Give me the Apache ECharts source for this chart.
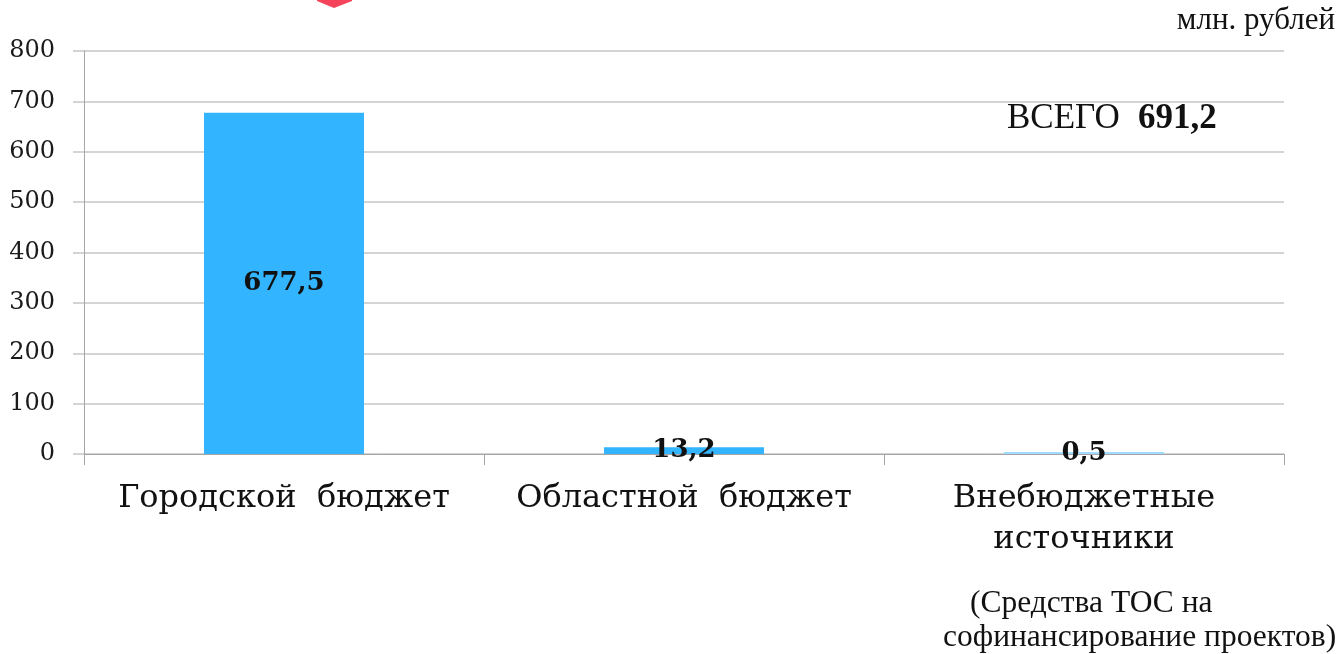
<!DOCTYPE html>
<html>
<head>
<meta charset="utf-8">
<script src="https://cdn.jsdelivr.net/npm/echarts@6/dist/echarts.min.js"></script>
<style>
  html, body { margin: 0; padding: 0; background: #fff; }
  #chart { width: 1337px; height: 654px; }
</style>
</head>
<body>
<div id="chart"></div>
<script>
const categories = ['Городской  бюджет', 'Областной  бюджет', 'Внебюджетные\nисточники']
const values = [677.5, 13.2, 0.5]
const valueLabels = ['677,5', '13,2', '0,5']
const yTicks = [0, 100, 200, 300, 400, 500, 600, 700, 800]
const totalLabel = 'ВСЕГО'
const totalValue = '691,2'
const unitLabel = 'млн. рублей'
const noteLines = ['(Средства ТОС на', 'софинансирование проектов)']

const chart = echarts.init(document.getElementById('chart'))

const gridColor = '#d4d4d4'
const axisColor = '#a6a6a6'
const barColor = '#33b4ff'
const serif = 'Liberation Serif'

chart.setOption({
  animation: false,
  grid: { left: 84, right: 53, top: 51, bottom: 200 },
  xAxis: {
    type: 'category',
    data: categories,
    axisLine: { lineStyle: { color: axisColor, width: 1 } },
    axisTick: { show: true, length: 11, lineStyle: { color: axisColor } },
    axisLabel: {
      interval: 0,
      hideOverlap: false,
      margin: 24,
      color: '#111',
      fontFamily: 'DejaVu Serif',
      fontSize: 32,
      lineHeight: 41,
    },
  },
  yAxis: {
    type: 'value',
    min: yTicks[0],
    max: yTicks[yTicks.length - 1],
    interval: 100,
    axisLine: { show: true, lineStyle: { color: axisColor, width: 1 } },
    axisTick: { show: true, length: 11, lineStyle: { color: gridColor, width: 2 } },
    splitLine: { lineStyle: { color: gridColor, width: 2 } },
    axisLabel: {
      margin: 29,
      color: '#1a1a1a',
      fontFamily: 'DejaVu Serif',
      fontSize: 24,
    },
  },
  series: [
    {
      type: 'bar',
      barWidth: 160,
      barMinHeight: 2,
      data: values.map((v, i) => ({
        value: v,
        itemStyle: { color: i === 2 ? '#9fdcff' : barColor },
      })),
      label: {
        show: true,
        position: 'inside',
        color: '#111',
        fontFamily: 'DejaVu Serif',
        fontWeight: 'bold',
        fontSize: 26,
        formatter: (p) => valueLabels[p.dataIndex],
      },
    },
  ],
  graphic: [
    {
      type: 'polygon',
      shape: { points: [[317, 0], [352, 0], [352, 1], [334, 8], [317, 1]] },
      style: { fill: '#f4435a' },
    },
    {
      type: 'text',
      right: 2,
      top: 5,
      style: {
        text: unitLabel,
        fontFamily: serif,
        fontSize: 31,
        fill: '#111',
      },
    },
    {
      type: 'text',
      left: 1007,
      top: 101,
      style: {
        text: totalLabel,
        fontFamily: serif,
        fontSize: 35,
        fill: '#111',
      },
    },
    {
      type: 'text',
      left: 1138,
      top: 101,
      style: {
        text: totalValue,
        fontFamily: serif,
        fontWeight: 'bold',
        fontSize: 35,
        fill: '#111',
      },
    },
    {
      type: 'text',
      left: 970,
      top: 588,
      style: { text: noteLines[0], fontFamily: serif, fontSize: 31.5, fill: '#111' },
    },
    {
      type: 'text',
      left: 943,
      top: 622,
      style: { text: noteLines[1], fontFamily: serif, fontSize: 31.5, fill: '#111' },
    },
  ],
})
</script>
</body>
</html>
